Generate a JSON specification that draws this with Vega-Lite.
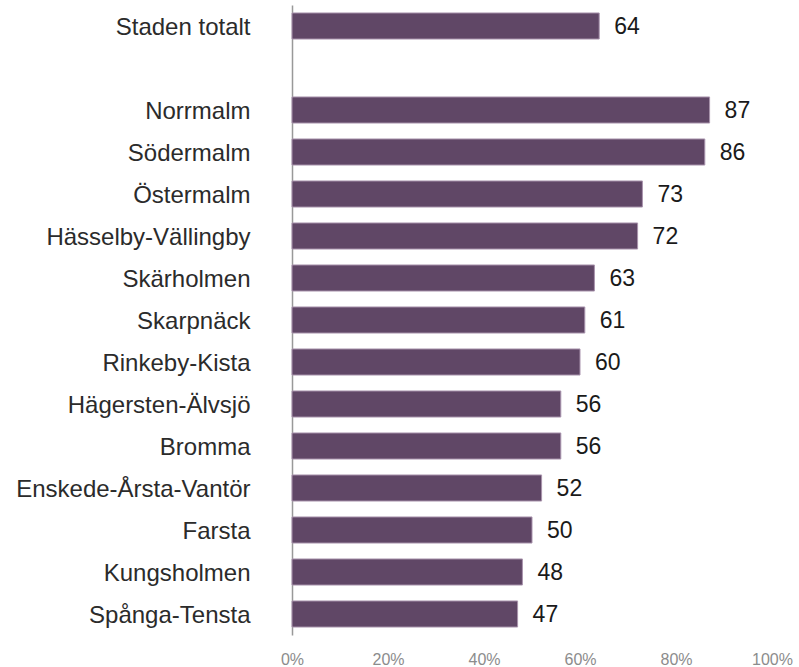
{
  "$schema": "https://vega.github.io/schema/vega-lite/v6.json",
  "width": 480,
  "height": 630,
  "autosize": "none",
  "padding": {"left": 292, "top": 5, "right": 27, "bottom": 32},
  "background": "white",
  "config": {"view": {"stroke": null}, "font": "Liberation Sans"},
  "data": {
    "values": [
      {"omrade": "Staden totalt", "andel": 64},
      {"omrade": "Norrmalm", "andel": 87},
      {"omrade": "Södermalm", "andel": 86},
      {"omrade": "Östermalm", "andel": 73},
      {"omrade": "Hässelby-Vällingby", "andel": 72},
      {"omrade": "Skärholmen", "andel": 63},
      {"omrade": "Skarpnäck", "andel": 61},
      {"omrade": "Rinkeby-Kista", "andel": 60},
      {"omrade": "Hägersten-Älvsjö", "andel": 56},
      {"omrade": "Bromma", "andel": 56},
      {"omrade": "Enskede-Årsta-Vantör", "andel": 52},
      {"omrade": "Farsta", "andel": 50},
      {"omrade": "Kungsholmen", "andel": 48},
      {"omrade": "Spånga-Tensta", "andel": 47}
    ]
  },
  "encoding": {
    "y": {
      "field": "omrade",
      "type": "nominal",
      "sort": null,
      "scale": {
        "domain": ["Staden totalt", " ", "Norrmalm", "Södermalm", "Östermalm", "Hässelby-Vällingby", "Skärholmen", "Skarpnäck", "Rinkeby-Kista", "Hägersten-Älvsjö", "Bromma", "Enskede-Årsta-Vantör", "Farsta", "Kungsholmen", "Spånga-Tensta"],
        "paddingInner": 0.38,
        "paddingOuter": 0.19
      },
      "axis": {
        "title": null,
        "ticks": false,
        "domainColor": "#999999",
        "domainWidth": 1.5,
        "labelPadding": 42,
        "labelFontSize": 24,
        "labelLimit": 0,
        "labelColor": "#2b2b2b",
        "labelFont": "Liberation Sans",
        "labelOffset": 2
      }
    },
    "x": {
      "field": "andel",
      "type": "quantitative",
      "scale": {"domain": [0, 100], "nice": false},
      "axis": {
        "title": null,
        "values": [0, 20, 40, 60, 80, 100],
        "labelExpr": "datum.value + '%'",
        "grid": false,
        "ticks": false,
        "domain": false,
        "labelBaseline": "alphabetic",
        "labelPadding": 29,
        "labelFontSize": 16,
        "labelColor": "#8c8c8c",
        "labelFont": "Liberation Sans",
        "labelFlush": false
      }
    }
  },
  "layer": [
    {
      "mark": {"type": "bar", "color": "#604766", "stroke": "#a993ad", "strokeWidth": 1}
    },
    {
      "mark": {"type": "text", "align": "left", "baseline": "middle", "dx": 15, "dy": 1, "fontSize": 23, "color": "#1a1a1a", "font": "Liberation Sans"},
      "encoding": {"text": {"field": "andel", "type": "quantitative"}}
    }
  ]
}
